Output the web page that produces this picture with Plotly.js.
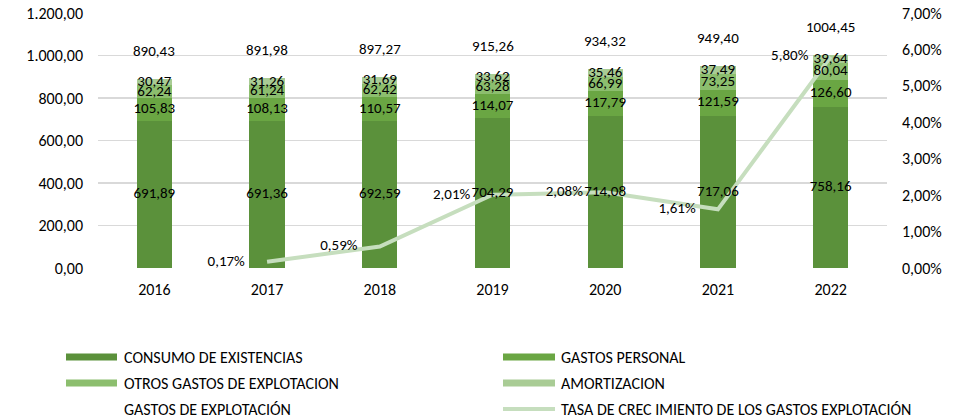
<!DOCTYPE html>
<html><head><meta charset="utf-8">
<script src="https://cdn.plot.ly/plotly-3.0.1.min.js"></script>
<style>html,body{margin:0;padding:0;background:#fff}#c{width:955px;height:419px}</style>
</head><body><div id="c"></div>
<script>
const years = ['2016','2017','2018','2019','2020','2021','2022'];
const consumo = [691.89, 691.36, 692.59, 704.29, 714.08, 717.06, 758.16];
const personal = [105.83, 108.13, 110.57, 114.07, 117.79, 121.59, 126.60];
const otros = [62.24, 61.24, 62.42, 63.28, 66.99, 73.25, 80.04];
const amort = [30.47, 31.26, 31.69, 33.62, 35.46, 37.49, 39.64];
const totales = [890.43, 891.98, 897.27, 915.26, 934.32, 949.40, 1004.45];
const tasaYears = ['2017','2018','2019','2020','2021','2022'];
const tasa = [0.0017, 0.0059, 0.0201, 0.0208, 0.0161, 0.0580];
const names = ['CONSUMO DE EXISTENCIAS','GASTOS PERSONAL','OTROS GASTOS DE EXPLOTACION','AMORTIZACION','GASTOS DE EXPLOTACIÓN','TASA DE CREC IMIENTO DE LOS GASTOS EXPLOTACIÓN'];

const FONT = 'Carlito, Calibri, Lato, sans-serif';
const colors = ['#5B913B','#6AA643','#8CBE6E','#A9CC95'];
const lineColor = '#C6DEBE';

const series = [consumo, personal, otros, amort];
const data = series.map((vals,i)=>({type:'bar', x:years, y:vals, name:names[i],
  marker:{color:colors[i], line:{width:0}}, showlegend:false, hoverinfo:'skip'}));

data.push({type:'scatter', mode:'lines+markers+text', x:tasaYears, y:tasa, yaxis:'y2', name:names[5],
   line:{color:lineColor, width:4}, marker:{size:34, color:'rgba(0,0,0,0)', line:{width:0}},
   texttemplate:'%{y:.2%}', textposition:'middle left',
   textfont:{family:FONT, size:15, color:'#000'}, showlegend:false, hoverinfo:'skip', cliponaxis:false});

// segment value labels, centred in each stacked segment, drawn above the line (overlay axis y3)
let base = years.map(()=>0);
series.forEach((vals,i)=>{
  const mids = vals.map((v,j)=>base[j]+v/2);
  data.push({type:'scatter', mode:'text', x:years, y:mids, yaxis:'y3', text:vals.map(v=>v.toFixed(2).replace('.',',')),
    textposition:'middle center', textfont:{family:FONT, size:15, color:'#000'}, showlegend:false, hoverinfo:'skip', cliponaxis:false});
  base = base.map((b,j)=>b+vals[j]);
});

const L=98, R=887, T=13, B=268;
const px = x => (x-L)/(R-L);
const py = y => (B-y)/(B-T);

// category axis: annotation x uses the category serial number
const annotations = years.map((yr,i)=>({x:i, y:totales[i], xref:'x', yref:'y', text:totales[i].toFixed(2).replace('.',','),
  showarrow:false, yshift:28, font:{family:FONT, size:15, color:'#000'}}));

const shapes = [];
const legendItems = [
  {col:0,row:0,type:'bar',color:colors[0],name:names[0]},
  {col:1,row:0,type:'bar',color:colors[1],name:names[1]},
  {col:0,row:1,type:'bar',color:colors[2],name:names[2]},
  {col:1,row:1,type:'bar',color:colors[3],name:names[3]},
  {col:0,row:2,type:'none',name:names[4]},
  {col:1,row:2,type:'line',color:lineColor,name:names[5]}
];
const colX = [[66,117,122],[503,555,559]];
const rowY = [357,383,409];
legendItems.forEach(it=>{
  const c = colX[it.col], y = rowY[it.row];
  if(it.type==='bar'){
    shapes.push({type:'rect', xref:'paper', yref:'paper', x0:px(c[0]), x1:px(c[1]), y0:py(y-3.5), y1:py(y+3.5), fillcolor:it.color, line:{width:0}});
  } else if(it.type==='line'){
    shapes.push({type:'line', xref:'paper', yref:'paper', x0:px(c[0]), x1:px(c[1]), y0:py(y), y1:py(y), line:{color:it.color, width:4}});
  }
  annotations.push({xref:'paper', yref:'paper', x:px(c[2]), y:py(y), xanchor:'left', yanchor:'middle', text:it.name,
    showarrow:false, font:{family:FONT, size:16, color:'#000'}});
});

const layout = {
  width:955, height:419, margin:{l:L, r:955-R, t:T, b:419-B},
  paper_bgcolor:'#fff', plot_bgcolor:'#fff', separators:',.',
  barmode:'stack', bargap:0.687, showlegend:false,
  font:{family:FONT, size:14, color:'#000'},
  xaxis:{type:'category', range:[-0.5,6.5], showgrid:false, showline:false, zeroline:false, ticks:'', ticklabelstandoff:10, tickfont:{family:FONT, size:16, color:'#000'}},
  yaxis:{range:[0,1200], dtick:200, tickformat:',.2f', showgrid:true, gridcolor:'#D9D9D9', gridwidth:1.3, zeroline:false, showline:false, ticks:'', ticklabelstandoff:14, tickfont:{family:FONT, size:16, color:'#000'}},
  yaxis2:{overlaying:'y', side:'right', range:[0,0.07], dtick:0.01, tickformat:'.2%', showgrid:false, zeroline:false, showline:false, ticks:'', ticklabelstandoff:14, tickfont:{family:FONT, size:16, color:'#000'}},
  yaxis3:{overlaying:'y', range:[0,1200], visible:false, showgrid:false, zeroline:false},
  annotations:annotations, shapes:shapes
};
Plotly.newPlot('c', data, layout, {staticPlot:true, displayModeBar:false});
</script></body></html>
